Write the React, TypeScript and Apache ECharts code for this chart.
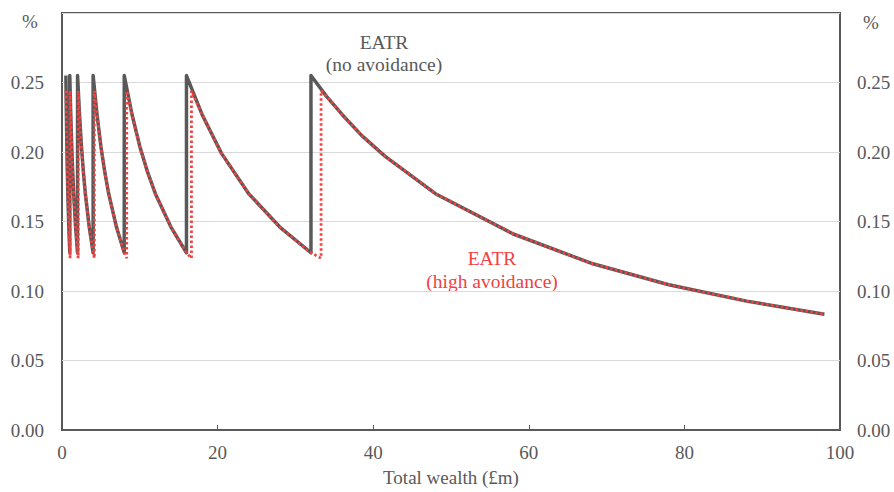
import React, { useEffect, useRef } from "react";
import * as echarts from "echarts";

// Total wealth (£m) and EATR (%) — no avoidance
const noAvoidX = [
  0.5, 0.5625, 0.625, 0.6875, 0.75, 0.875, 1,
  1, 1.125, 1.25, 1.375, 1.5, 1.75, 2,
  2, 2.25, 2.5, 2.75, 3, 3.5, 4,
  4, 4.5, 5, 5.5, 6, 7, 8,
  8, 9, 10, 11, 12, 14, 16,
  16, 18, 20.5, 24, 28, 32,
  32, 34, 36, 38.5, 41.5, 48, 58, 68, 78, 88, 98,
];
const noAvoidY = [
  0.255, 0.227, 0.204, 0.1855, 0.17, 0.146, 0.1275,
  0.255, 0.227, 0.204, 0.1855, 0.17, 0.146, 0.1275,
  0.255, 0.227, 0.204, 0.1855, 0.17, 0.146, 0.1275,
  0.255, 0.227, 0.204, 0.1855, 0.17, 0.146, 0.1275,
  0.255, 0.227, 0.204, 0.1855, 0.17, 0.146, 0.1275,
  0.255, 0.227, 0.199, 0.17, 0.146, 0.1275,
  0.255, 0.24, 0.227, 0.212, 0.197, 0.17, 0.141, 0.12, 0.1045, 0.0927, 0.0833,
];

// EATR — high avoidance
const highAvoidX = [
  0.52, 0.5625, 0.625, 0.6875, 0.75, 0.875, 1, 1.04,
  1.04, 1.125, 1.25, 1.375, 1.5, 1.75, 2, 2.08,
  2.08, 2.25, 2.5, 2.75, 3, 3.5, 4, 4.16,
  4.16, 4.5, 5, 5.5, 6, 7, 8, 8.32,
  8.32, 9, 10, 11, 12, 14, 16, 16.64,
  16.64, 18, 20.5, 24, 28, 32, 33.3,
  33.3, 34, 36, 38.5, 41.5, 48, 58, 68, 78, 88, 98,
];
const highAvoidY = [
  0.244, 0.227, 0.204, 0.1855, 0.17, 0.146, 0.1275, 0.1236,
  0.244, 0.227, 0.204, 0.1855, 0.17, 0.146, 0.1275, 0.1236,
  0.244, 0.227, 0.204, 0.1855, 0.17, 0.146, 0.1275, 0.1236,
  0.244, 0.227, 0.204, 0.1855, 0.17, 0.146, 0.1275, 0.1236,
  0.244, 0.227, 0.204, 0.1855, 0.17, 0.146, 0.1275, 0.1236,
  0.244, 0.227, 0.199, 0.17, 0.146, 0.1275, 0.1236,
  0.244, 0.24, 0.227, 0.212, 0.197, 0.17, 0.141, 0.12, 0.1045, 0.0927, 0.0833,
];

const xAxisTitle = "Total wealth (£m)";
const yUnit = "%";
const noAvoidLabel = ["EATR", "(no avoidance)"];
const highAvoidLabel = ["EATR", "(high avoidance)"];

const GREY = "#595959";
const RED = "#f2413f";
const FONT = "'Liberation Serif', 'Times New Roman', 'DejaVu Serif', serif";

export default function App() {
  const ref = useRef<HTMLDivElement>(null);
  useEffect(() => {
    if (!ref.current) return;
    const chart = echarts.init(ref.current, null, { renderer: "svg" });
    const fmt = (v: number) => (Math.abs(v - 0.3) < 1e-9 ? "" : v.toFixed(2));
    const yCommon = {
      type: "value",
      min: 0,
      max: 0.3,
      interval: 0.05,
      axisLine: { show: false },
      axisTick: { show: false },
    };
    const txt = (size: number) => ({ fontFamily: FONT, fontSize: size });
    chart.setOption({
      animation: false,
      backgroundColor: "#ffffff",
      grid: {
        left: 62,
        right: 54,
        top: 13,
        bottom: 59,
        show: true,
        borderColor: GREY,
        borderWidth: 2,
      },
      xAxis: {
        type: "value",
        min: 0,
        max: 100,
        interval: 20,
        name: xAxisTitle,
        nameLocation: "middle",
        nameGap: 38,
        nameTextStyle: { color: GREY, ...txt(19) },
        axisLine: { show: true, lineStyle: { color: GREY, width: 2 } },
        axisTick: { show: true, inside: true, length: 5, lineStyle: { color: GREY, width: 1 } },
        axisLabel: { color: GREY, ...txt(19), margin: 13 },
        splitLine: { show: false },
      },
      yAxis: [
        {
          ...yCommon,
          position: "left",
          axisLabel: { color: GREY, ...txt(19), margin: 18, formatter: fmt },
          splitLine: { show: true, lineStyle: { color: "#d9d9d9", width: 1 } },
        },
        {
          ...yCommon,
          position: "right",
          axisLabel: { color: GREY, ...txt(19), margin: 17, formatter: fmt },
          splitLine: { show: false },
        },
      ],
      graphic: [
        {
          type: "text",
          x: 30,
          y: 21,
          style: { text: yUnit, fill: GREY, ...txt(19), align: "center", verticalAlign: "middle" },
        },
        {
          type: "text",
          x: 871,
          y: 22,
          style: { text: yUnit, fill: GREY, ...txt(19), align: "center", verticalAlign: "middle" },
        },
        {
          type: "text",
          x: 384,
          y: 53,
          style: {
            text: noAvoidLabel.join("\n"),
            fill: GREY,
            ...txt(19.5),
            align: "center",
            verticalAlign: "middle",
            lineHeight: 22,
          },
        },
        {
          type: "text",
          x: 492,
          y: 270,
          style: {
            text: highAvoidLabel.join("\n"),
            fill: RED,
            ...txt(19.5),
            align: "center",
            verticalAlign: "middle",
            lineHeight: 23,
          },
        },
      ],
      series: [
        {
          type: "line",
          data: noAvoidX.map((x, i) => [x, noAvoidY[i]]),
          showSymbol: false,
          symbol: "none",
          lineStyle: { color: GREY, width: 3.5, join: "round" },
          z: 2,
        },
        {
          type: "line",
          data: highAvoidX.map((x, i) => [x, highAvoidY[i]]),
          showSymbol: false,
          symbol: "none",
          lineStyle: { color: RED, width: 2.8, type: [2.5, 2.5] },
          z: 3,
        },
      ],
    });
    return () => chart.dispose();
  }, []);
  return <div ref={ref} style={{ width: 894, height: 492, position: "absolute", left: 0, top: 0 }} />;
}
